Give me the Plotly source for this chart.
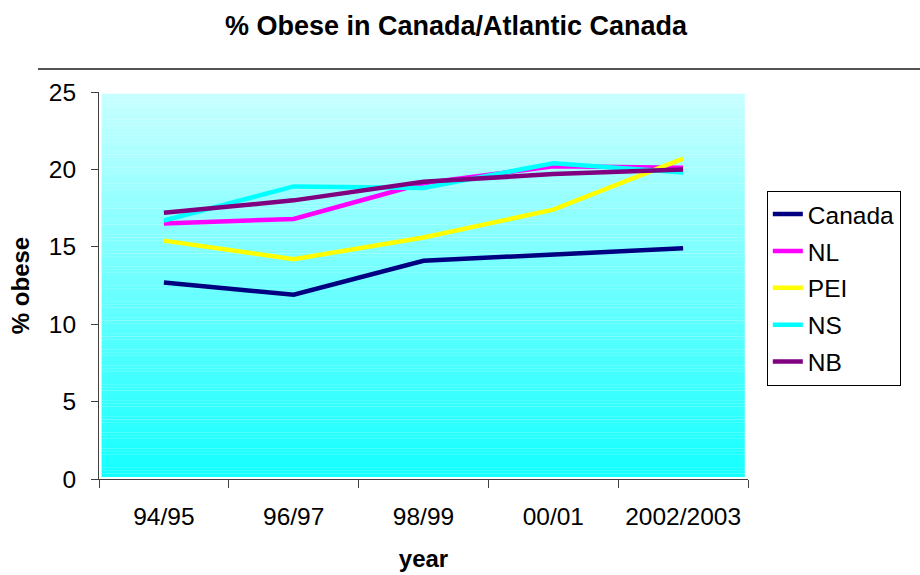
import plotly.graph_objects as go

# Survey periods and obesity rates (%)
years = ["94/95", "96/97", "98/99", "00/01", "2002/2003"]
canada = [12.7, 11.9, 14.1, 14.5, 14.9]
nl = [16.5, 16.8, 19.1, 20.2, 20.1]
pei = [15.4, 14.2, 15.6, 17.4, 20.7]
ns = [16.7, 18.9, 18.8, 20.4, 19.8]
nb = [17.2, 18.0, 19.2, 19.7, 20.0]

series_names = ["Canada", "NL", "PEI", "NS", "NB"]
series_values = [canada, nl, pei, ns, nb]
series_colors = ["#000080", "#ff00ff", "#ffff00", "#00ffff", "#800080"]

FONT = "Liberation Sans, Arial, sans-serif"

fig = go.Figure()
for i, (name, vals, col) in enumerate(zip(series_names, series_values, series_colors)):
    fig.add_trace(go.Scatter(
        x=years, y=vals, name=name, mode="lines",
        line=dict(color=col, width=4.5),
        legendgroup=f"g{i}",
    ))

# Vertical gradient fill of the plotting area: light cyan at top to cyan at bottom
top_rgb = (200, 255, 255)
bot_rgb = (20, 255, 255)
n_bands = 120
shapes = []
for k in range(n_bands):
    t = (k + 0.5) / n_bands  # 0 at bottom, 1 at top
    r = round(bot_rgb[0] + (top_rgb[0] - bot_rgb[0]) * t)
    g = round(bot_rgb[1] + (top_rgb[1] - bot_rgb[1]) * t)
    b = round(bot_rgb[2] + (top_rgb[2] - bot_rgb[2]) * t)
    shapes.append(dict(
        type="rect", xref="x domain", yref="y domain",
        x0=0.004, x1=0.995, y0=0.005 + 0.99 * k / n_bands, y1=0.005 + 0.99 * (k + 1) / n_bands + 0.0005,
        fillcolor=f"rgb({r},{g},{b})", line=dict(width=0), layer="below",
    ))

# Rule under the title
shapes.append(dict(
    type="line", xref="paper", yref="paper",
    x0=-0.094, x1=1.3, y0=1.0594, y1=1.0594,
    line=dict(color="#1a1a1a", width=1.6),
))

fig.update_layout(
    width=920, height=575,
    margin=dict(l=99, r=172, t=92, b=96, autoexpand=False),
    paper_bgcolor="white",
    plot_bgcolor="white",
    font=dict(family=FONT, color="black", size=24),
    title=dict(
        text="<b>% Obese in Canada/Atlantic Canada</b>",
        x=0.4957, xref="container", xanchor="center",
        y=1 - 26 / 575, yref="container", yanchor="middle",
        font=dict(family=FONT, size=27, color="black"),
    ),
    shapes=shapes,
    showlegend=True,
    legend=dict(
        x=1.029, xanchor="left", y=0.745, yanchor="top",
        bordercolor="black", borderwidth=1, bgcolor="white",
        font=dict(family=FONT, size=24.5, color="black"),
        traceorder="grouped", tracegroupgap=2,
        entrywidth=125,
    ),
)

fig.update_xaxes(
    type="category", range=[-0.5, 4.5], automargin=False,
    showline=True, linecolor="#404040", linewidth=1,
    ticks="outside", tickson="boundaries", ticklen=8, tickcolor="#404040",
    showgrid=False, zeroline=False,
    tickfont=dict(family=FONT, size=24.5),
    ticklabelstandoff=16,
    title=dict(text="<b>year</b>", font=dict(family=FONT, size=24), standoff=20),
)
fig.update_yaxes(
    range=[0, 25], dtick=5, automargin=False,
    showline=True, linecolor="#404040", linewidth=1,
    ticks="outside", ticklen=7, tickcolor="#404040",
    showgrid=False, zeroline=False,
    tickfont=dict(family=FONT, size=24.5),
    ticklabelstandoff=10,
    title=dict(text="<b>% obese</b>", font=dict(family=FONT, size=24), standoff=12),
)

fig.write_html("out.html")
